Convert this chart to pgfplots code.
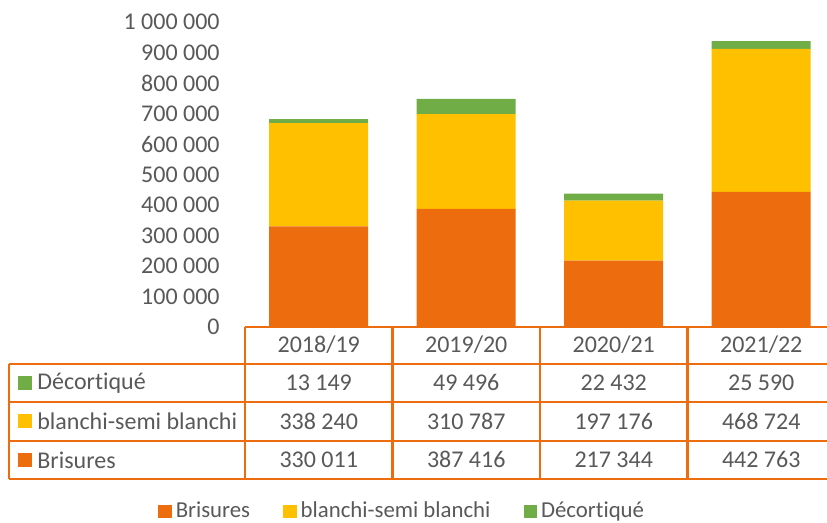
\documentclass[border=0pt]{standalone}
\usepackage{pgfplots}
\pgfplotsset{compat=1.18}
\usepackage{fontspec}
\setmainfont{Carlito}[Ligatures={NoCommon}]
\definecolor{cBris}{RGB}{237,108,14}
\definecolor{cBlan}{RGB}{255,192,0}
\definecolor{cDec}{RGB}{112,173,71}
\definecolor{txt}{RGB}{89,89,89}
\newcommand{\tf}{\fontsize{12}{14}\selectfont}
\newcommand{\lf}{\fontsize{11.4}{13}\selectfont}
\begin{document}
\begin{tikzpicture}
\clip (-122.5pt,-98pt) rectangle (291pt,163.5pt);
\begin{axis}[
  at={(0pt,0pt)}, anchor=south west,
  width=295pt, height=152.5pt, scale only axis,
  xmin=-0.5, xmax=3.5, ymin=0, ymax=1000000,
  ybar stacked, bar width=49.5pt,
  axis line style={draw=none}, major tick length=0pt,
  xtick=\empty,
  ytick={0,100000,200000,300000,400000,500000,600000,700000,800000,900000,1000000},
  scaled y ticks=false,
  yticklabel style={anchor=east, inner sep=0pt, xshift=-12.5pt, font=\tf, text=txt,
    /pgf/number format/.cd, fixed, precision=0, 1000 sep={\ }, assume math mode=true},
  legend columns=3,
  legend style={draw=none, at={(0.268,-0.605)}, anchor=center, font=\lf, text=txt,
    /tikz/every even column/.append style={column sep=14.5pt},
    /tikz/every odd column/.append style={column sep=0pt},
    inner sep=0pt},
  legend image code/.code={\fill[#1] (0pt,-3.4pt) rectangle (6.8pt,3.4pt);},
  clip=false,
]
\addplot[fill=cBris, draw=none] coordinates {(0,330011) (1,387416) (2,217344) (3,442763)};
\addplot[fill=cBlan, draw=none] coordinates {(0,338240) (1,310787) (2,197176) (3,468724)};
\addplot[fill=cDec, draw=none] coordinates {(0,13149) (1,49496) (2,22432) (3,25590)};
\legend{Brisures, blanchi-semi blanchi, Décortiqué}
\end{axis}
% data table
\begin{scope}[x=0.5pt, y=0.5pt, shift={(-122.5pt,-98pt)}]
\begin{scope}[draw=cBris, line width=1.1pt]
\draw (245,196) -- (835,196);
\foreach \yy in {159,121,82,44} \draw (9,\yy) -- (835,\yy);
\draw (9,159) -- (9,44);
\foreach \xx in {245,392.5,540,687.5,835} \draw (\xx,196) -- (\xx,44);
\end{scope}
\foreach \lab [count=\i from 0] in {2018/19,2019/20,2020/21,2021/22}
  \node[text=txt, font=\tf] at ({318.75+147.5*\i},178.5) {\lab};
\foreach \v [count=\i from 0] in {13 149,49 496,22 432,25 590}
  \node[text=txt, font=\tf] at ({318.75+147.5*\i},140.5) {\v};
\foreach \v [count=\i from 0] in {338 240,310 787,197 176,468 724}
  \node[text=txt, font=\tf] at ({318.75+147.5*\i},102) {\v};
\foreach \v [count=\i from 0] in {330 011,387 416,217 344,442 763}
  \node[text=txt, font=\tf] at ({318.75+147.5*\i},63.5) {\v};
\fill[cDec] (18,133) rectangle (32,147);
\fill[cBlan] (18,94.5) rectangle (32,108.5);
\fill[cBris] (18,56) rectangle (32,70);
\node[text=txt, font=\tf, anchor=west, inner sep=0pt] at (37,140) {Décortiqué};
\node[text=txt, font=\tf, anchor=west, inner sep=0pt] at (37,101.5) {blanchi-semi blanchi};
\node[text=txt, font=\tf, anchor=west, inner sep=0pt] at (37,63) {Brisures};
\end{scope}
\end{tikzpicture}
\end{document}
